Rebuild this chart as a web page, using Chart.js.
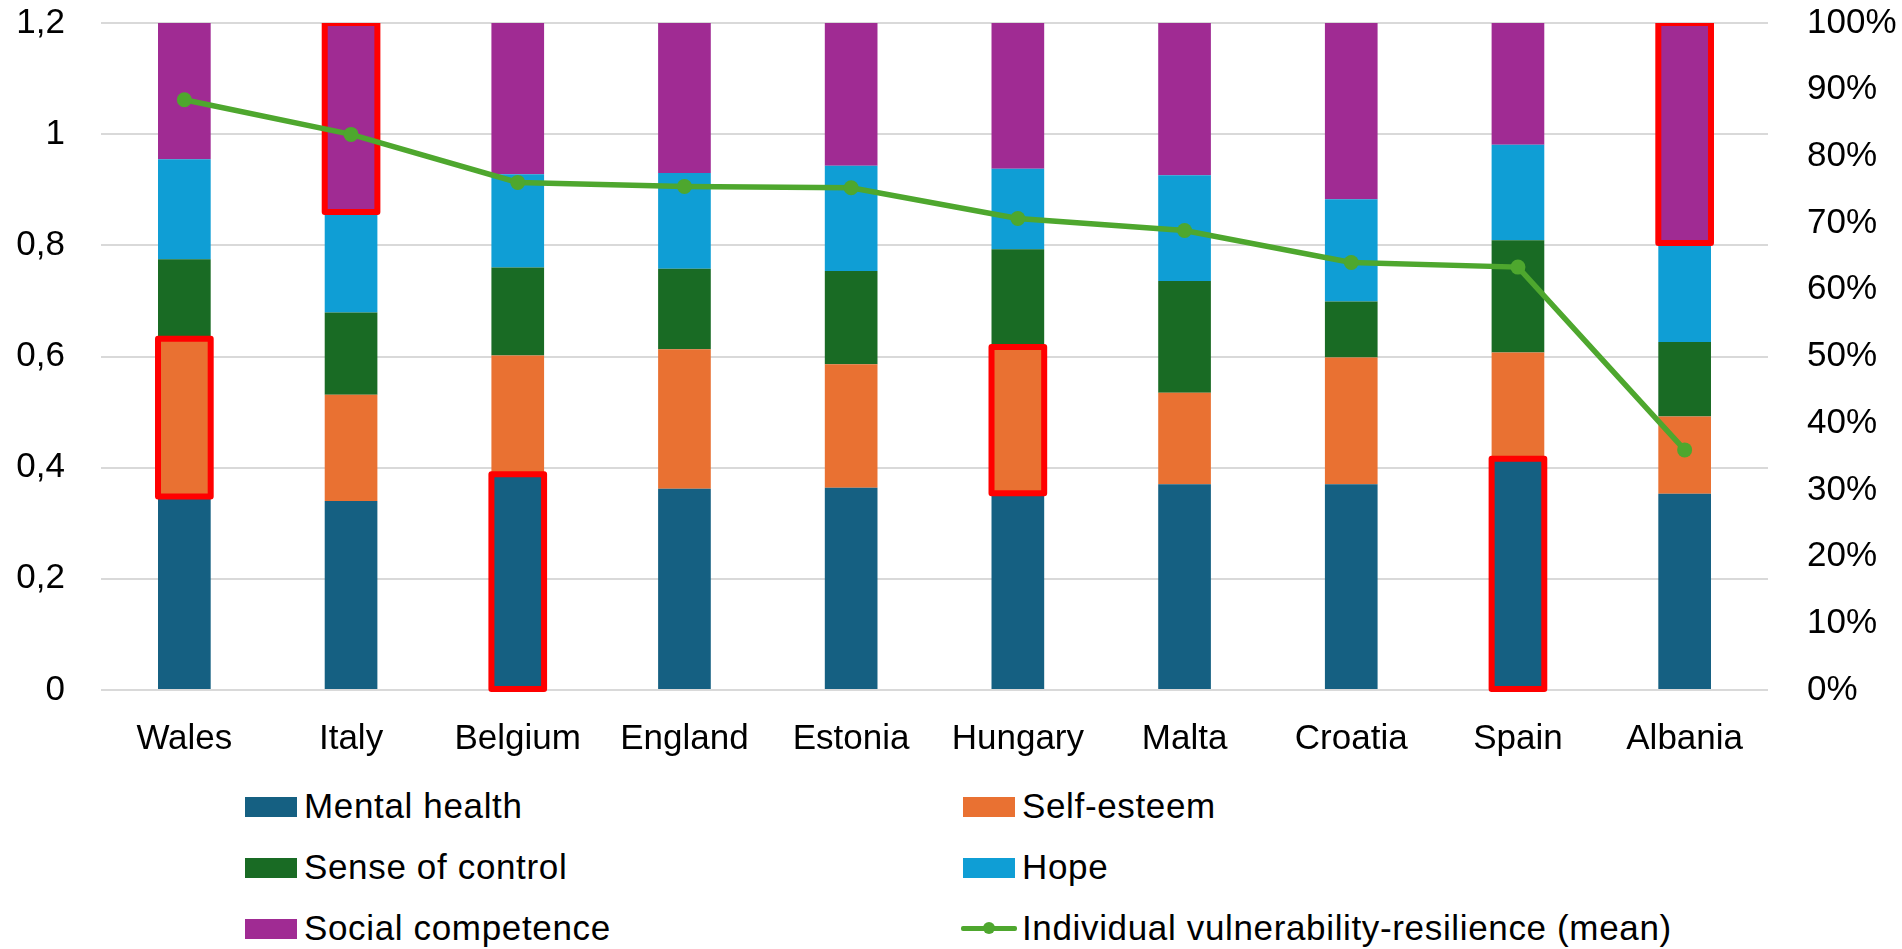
<!DOCTYPE html>
<html>
<head>
<meta charset="utf-8">
<script src="https://cdn.jsdelivr.net/npm/chart.js@4/dist/chart.umd.min.js"></script>
<style>
  html, body { margin: 0; padding: 0; background: #ffffff; }
  body { width: 1902px; height: 949px; position: relative; overflow: hidden;
         font-family: "Liberation Sans", Arial, sans-serif; }
  #chart { position: absolute; left: 0; top: 0; }
  .legend-item { position: absolute; height: 40px; display: flex; align-items: center;
                 font-size: 35px; line-height: 40px; color: #000; white-space: nowrap;
                 letter-spacing: 0.65px; }
  .legend-box { width: 52px; height: 20px; margin-right: 7px; margin-top: 2px; flex: none; }
  .legend-line { width: 56px; height: 14px; margin-right: 5px; position: relative; flex: none; }
  .legend-line .seg { position: absolute; left: 0; right: 0; top: 4.5px; height: 5px; border-radius: 2px; }
  .legend-line .dot { position: absolute; left: 22px; top: 1px; width: 12px; height: 12px; border-radius: 50%; }
</style>
</head>
<body>
<canvas id="chart" width="1902" height="760"></canvas>
<div id="legend"></div>
<script>
// Countries along the x axis
const countries = ['Wales', 'Italy', 'Belgium', 'England', 'Estonia', 'Hungary', 'Malta', 'Croatia', 'Spain', 'Albania'];

// Stacked components (left axis)
const mentalHealth     = [0.348, 0.340, 0.388, 0.362, 0.364, 0.354, 0.370, 0.370, 0.416, 0.353];
const selfEsteem       = [0.284, 0.191, 0.214, 0.251, 0.222, 0.263, 0.165, 0.228, 0.191, 0.139];
const senseOfControl   = [0.143, 0.148, 0.158, 0.145, 0.168, 0.176, 0.201, 0.101, 0.202, 0.134];
const hope             = [0.180, 0.181, 0.168, 0.172, 0.189, 0.145, 0.190, 0.184, 0.172, 0.178];
const socialCompetence = [0.245, 0.340, 0.272, 0.270, 0.257, 0.262, 0.274, 0.317, 0.219, 0.396];

// Mean score per country (right axis, %)
const resilienceMean   = [88.5, 83.3, 76.1, 75.5, 75.3, 70.7, 68.9, 64.1, 63.4, 36.0];

// Axis ticks
const leftTicks  = [0, 0.2, 0.4, 0.6, 0.8, 1, 1.2];
const rightTicks = [0, 10, 20, 30, 40, 50, 60, 70, 80, 90, 100];

// Series names and colours
const seriesNames  = ['Mental health', 'Self-esteem', 'Sense of control', 'Hope', 'Social competence'];
const seriesColors = ['#156082', '#E97132', '#196B24', '#0F9ED5', '#A02B93'];
const lineName  = 'Individual vulnerability-resilience (mean)';
const lineColor = '#4EA72E';

// Segments outlined in red: [series, country]
const outlined = [
  ['Self-esteem', 'Wales'],
  ['Social competence', 'Italy'],
  ['Mental health', 'Belgium'],
  ['Self-esteem', 'Hungary'],
  ['Mental health', 'Spain'],
  ['Social competence', 'Albania']
];

const seriesData = [mentalHealth, selfEsteem, senseOfControl, hope, socialCompetence];

Chart.defaults.font.family = '"Liberation Sans", Arial, sans-serif';
Chart.defaults.font.size = 35;
Chart.defaults.color = '#000000';

const barDatasets = seriesNames.map((name, i) => ({
  type: 'bar',
  label: name,
  data: seriesData[i],
  backgroundColor: seriesColors[i],
  borderWidth: 0,
  stack: 'components',
  yAxisID: 'y',
  order: 1,
  barPercentage: 0.316,
  categoryPercentage: 1.0
}));

const lineDataset = {
  type: 'line',
  label: lineName,
  data: resilienceMean,
  borderColor: lineColor,
  backgroundColor: lineColor,
  borderWidth: 5.5,
  pointRadius: 7.5,
  pointBackgroundColor: lineColor,
  pointBorderWidth: 0,
  tension: 0,
  yAxisID: 'y1',
  order: 0
};

// Red outlines sit over the bars, under the line
const outlinePlugin = {
  id: 'segmentOutline',
  beforeDatasetDraw(chart, args) {
    if (args.meta.type !== 'line') return;
    const ctx = chart.ctx;
    const area = chart.chartArea;
    ctx.save();
    ctx.beginPath();
    ctx.rect(0, area.top, chart.width, area.bottom + 2 - area.top);
    ctx.clip();
    ctx.strokeStyle = '#FF0000';
    ctx.lineWidth = 6;
    ctx.lineJoin = 'round';
    outlined.forEach(([series, country]) => {
      const s = seriesNames.indexOf(series);
      const c = countries.indexOf(country);
      const el = chart.getDatasetMeta(s).data[c];
      const p = el.getProps(['x', 'y', 'base', 'width'], true);
      const left = p.x - p.width / 2;
      const top = Math.min(p.y, p.base);
      const bottom = Math.max(p.y, p.base);
      ctx.strokeRect(left, top, p.width, bottom - top);
    });
    ctx.restore();
  }
};

new Chart(document.getElementById('chart'), {
  data: {
    labels: countries,
    datasets: [...barDatasets, lineDataset]
  },
  options: {
    responsive: false,
    animation: false,
    devicePixelRatio: 1,
    layout: { padding: { top: 23, left: 0, right: 0, bottom: 0 } },
    plugins: {
      legend: { display: false },
      tooltip: { enabled: false }
    },
    scales: {
      x: {
        stacked: true,
        grid: { display: false },
        border: { display: false },
        ticks: { padding: 20, font: { size: 35 }, color: '#000' },
        afterFit(scale) { scale.height = 70; }
      },
      y: {
        position: 'left',
        stacked: true,
        min: 0,
        max: 1.2,
        afterBuildTicks(scale) { scale.ticks = leftTicks.map(v => ({ value: v })); },
        ticks: {
          padding: 36,
          font: { size: 35 },
          color: '#000',
          callback: v => String(Math.round(v * 10) / 10).replace('.', ',')
        },
        grid: { color: '#D9D9D9', lineWidth: 2, drawTicks: false },
        border: { display: false },
        afterFit(scale) { scale.width = 101; scale.paddingTop = 0; scale.paddingBottom = 0; }
      },
      y1: {
        position: 'right',
        min: 0,
        max: 100,
        afterBuildTicks(scale) { scale.ticks = rightTicks.map(v => ({ value: v })); },
        ticks: {
          padding: 31,
          font: { size: 35 },
          color: '#000',
          callback: v => v + '%'
        },
        grid: { display: false },
        border: { display: false },
        afterFit(scale) { scale.width = 134; scale.paddingTop = 0; scale.paddingBottom = 0; }
      }
    }
  },
  plugins: [outlinePlugin]
});

// Two-column legend under the chart
const legend = document.getElementById('legend');
const legendEntries = seriesNames.map((name, i) => ({ name, color: seriesColors[i], kind: 'box' }))
  .concat([{ name: lineName, color: lineColor, kind: 'line' }]);
const columnLeft = [245, 963];
const rowTop = [786, 847, 908];
legendEntries.forEach((entry, i) => {
  const item = document.createElement('div');
  item.className = 'legend-item';
  item.style.left = columnLeft[i % 2] + 'px';
  item.style.top = rowTop[Math.floor(i / 2)] + 'px';
  let marker;
  if (entry.kind === 'box') {
    marker = document.createElement('div');
    marker.className = 'legend-box';
    marker.style.background = entry.color;
  } else {
    marker = document.createElement('div');
    marker.className = 'legend-line';
    marker.style.marginLeft = '-2px';
    const seg = document.createElement('div');
    seg.className = 'seg';
    seg.style.background = entry.color;
    const dot = document.createElement('div');
    dot.className = 'dot';
    dot.style.background = entry.color;
    marker.appendChild(seg);
    marker.appendChild(dot);
  }
  const text = document.createElement('span');
  text.textContent = entry.name;
  item.appendChild(marker);
  item.appendChild(text);
  legend.appendChild(item);
});
</script>
</body>
</html>
